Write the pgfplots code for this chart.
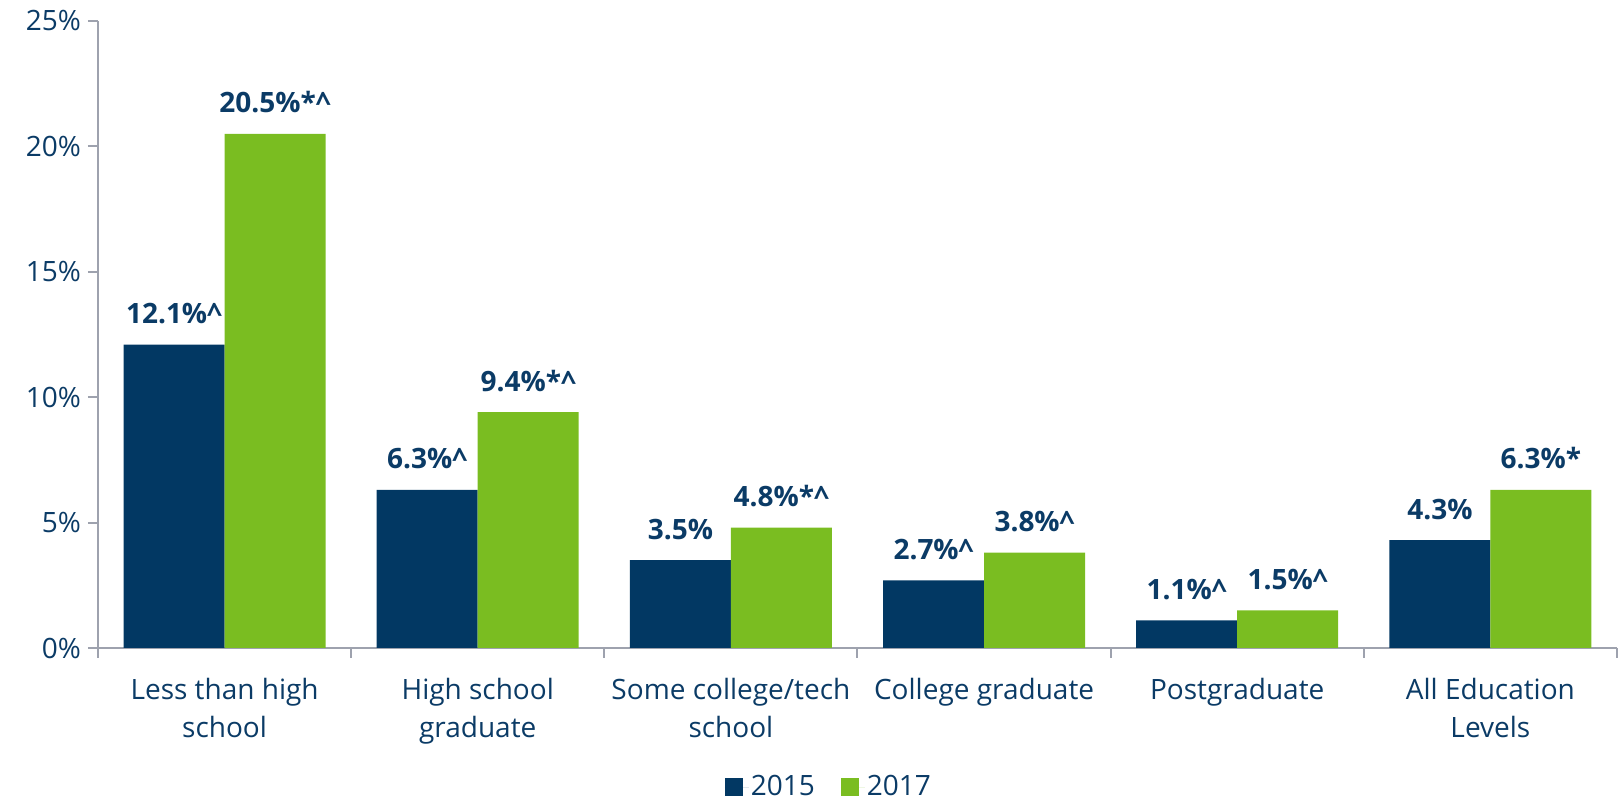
\documentclass[border=0pt]{standalone}
\usepackage{pgfplots}
\pgfplotsset{compat=1.18}
\usepackage{fontspec}
\setmainfont{Open Sans}
\definecolor{dblue}{HTML}{023863}
\definecolor{lgreen}{HTML}{7ABD21}
\definecolor{txtblue}{HTML}{0B3B66}
\definecolor{axgray}{HTML}{9EA2AE}
\begin{document}
\begin{tikzpicture}
\begin{axis}[
    at={(0,0)}, anchor=south west,
    scale only axis,
    width=759.5pt, height=313.5pt,
    ybar=0pt, bar width=50.5pt,
    xmin=-0.5, xmax=5.5, ymin=0, ymax=25,
    enlargelimits=false,
    axis x line*=bottom, axis y line*=left,
    axis line style={axgray, line width=1pt, -},
    tick align=outside,
    major tick length=5pt, minor tick length=5pt,
    tick style={axgray, line width=1pt},
    every major x tick/.append style={draw=none},
    xtick={0,...,5},
    minor xtick={-0.5,0.5,...,5.5},
    xticklabels={Less than high\\school, High school\\graduate, Some college/tech\\school, College graduate, Postgraduate, All Education\\Levels},
    xticklabel style={align=center, font=\fontsize{14}{19}\selectfont, text=txtblue, yshift=-6.5pt},
    ytick={0,5,...,25},
    yticklabels={0\%,5\%,10\%,15\%,20\%,25\%},
    yticklabel style={font=\fontsize{14}{16}\selectfont, text=txtblue},
    point meta=explicit symbolic,
    nodes near coords,
    nodes near coords style={anchor=base, yshift=10.5pt, font=\bfseries\fontsize{14}{16}\selectfont, text=txtblue},
    legend style={at={(0.4812,-0.222)}, anchor=center, draw=none, fill=none, legend columns=2,
        inner sep=0pt, font=\fontsize{14}{16}\selectfont, text=txtblue,
        nodes={inner sep=1pt},
        /tikz/every even column/.append style={column sep=12pt}},
    legend image code/.code={\fill[#1] (0pt,-4.5pt) rectangle (9pt,4.5pt); \path (0pt,0pt) -- (12pt,0pt);},
]
\addplot[draw=none, fill=dblue] coordinates {
    (0,12.1) [12.1\%\textasciicircum]
    (1,6.3) [6.3\%\textasciicircum]
    (2,3.5) [3.5\%]
    (3,2.7) [2.7\%\textasciicircum]
    (4,1.1) [1.1\%\textasciicircum]
    (5,4.3) [4.3\%]
};
\addplot[draw=none, fill=lgreen] coordinates {
    (0,20.5) [20.5\%*\textasciicircum]
    (1,9.4) [9.4\%*\textasciicircum]
    (2,4.8) [4.8\%*\textasciicircum]
    (3,3.8) [3.8\%\textasciicircum]
    (4,1.5) [1.5\%\textasciicircum]
    (5,6.3) [6.3\%*]
};
\legend{2015, 2017}
\end{axis}
\pgfresetboundingbox
\path (-49pt,-77.5pt) rectangle (760.5pt,324pt);
\end{tikzpicture}
\end{document}
